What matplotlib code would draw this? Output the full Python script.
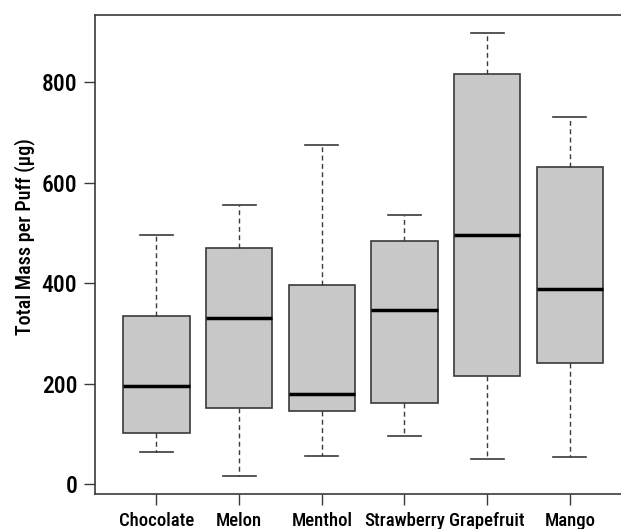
import matplotlib
matplotlib.use("Agg")
import matplotlib.pyplot as plt
from matplotlib import font_manager as fm

# values (ug per puff)
flavours = ["Chocolate", "Melon", "Menthol", "Strawberry", "Grapefruit", "Mango"]
whisk_lo = [65, 17, 56, 95, 51, 55]
q1 = [101, 152, 145, 161, 216, 241]
medians = [195, 331, 179, 346, 496, 389]
q3 = [335, 471, 397, 483, 817, 632]
whisk_hi = [496, 555, 675, 535, 897, 731]

# look for a narrow / condensed font file, the reference uses a condensed face
cond_file = None
cands = []
for f in fm.fontManager.ttflist:
    fn = f.fname.lower()
    if ('condensed' in fn or 'narrow' in fn) and 'italic' not in fn and 'oblique' not in fn:
        cands.append(f)
prefs = ['roboto', 'liberation', 'opensans', 'open', 'noto', 'dejavu', '']
for p in prefs:
    hits = [f for f in cands if p in f.fname.lower().replace(' ', '')]
    if hits:
        bold = [f for f in hits if 'bold' in f.fname.lower() and 'extra' not in f.fname.lower()
                and 'semi' not in f.fname.lower()]
        medium = [f for f in hits if 'medium' in f.fname.lower()]
        pick = (medium or bold or hits)[0]
        cond_file = pick.fname
        break

if cond_file:
    fp = lambda s: fm.FontProperties(fname=cond_file, size=s)
    ysz, xsz, lsz = 17, 13.5, 14.5
else:
    fp = lambda s: fm.FontProperties(family='DejaVu Sans', weight='bold', size=s)
    ysz, xsz, lsz = 15, 10, 12

stats = []
for i in range(len(flavours)):
    stats.append({'label': flavours[i], 'whislo': whisk_lo[i], 'q1': q1[i],
                  'med': medians[i], 'q3': q3[i], 'whishi': whisk_hi[i],
                  'fliers': []})

fig = plt.figure(figsize=(6.21, 5.29), dpi=100)
ax = fig.add_axes([0.1535, 0.0656, 0.8465, 0.9055])

line_col = '#3a3a3a'
ax.bxp(stats, positions=range(1, 7), widths=0.8, patch_artist=True,
       boxprops=dict(facecolor='#c8c8c8', edgecolor=line_col, linewidth=1.2),
       medianprops=dict(color='black', linewidth=2.5),
       whiskerprops=dict(color=line_col, linewidth=1.0, linestyle=(0, (3.5, 2.5))),
       capprops=dict(color=line_col, linewidth=1.2),
       capwidths=0.4, showfliers=False)

ax.set_xlim(0.26, 6.62)
ax.set_ylim(-20, 933)
ax.set_yticks([0, 200, 400, 600, 800])
ax.set_ylabel("Total Mass per Puff (µg)", fontproperties=fp(lsz))
ax.yaxis.set_label_coords(-0.114, 0.539)

for side in ['left', 'bottom', 'top']:
    ax.spines[side].set_color(line_col)
    ax.spines[side].set_linewidth(1.2)
ax.spines['right'].set_visible(False)

ax.tick_params(axis='y', length=8, width=1.0, color=line_col, pad=5)
ax.tick_params(axis='x', length=8, width=1.0, color=line_col, pad=5)
for lab in ax.get_yticklabels():
    lab.set_fontproperties(fp(ysz))
for lab in ax.get_xticklabels():
    lab.set_fontproperties(fp(xsz))

fig.savefig("out.png", dpi=100)
